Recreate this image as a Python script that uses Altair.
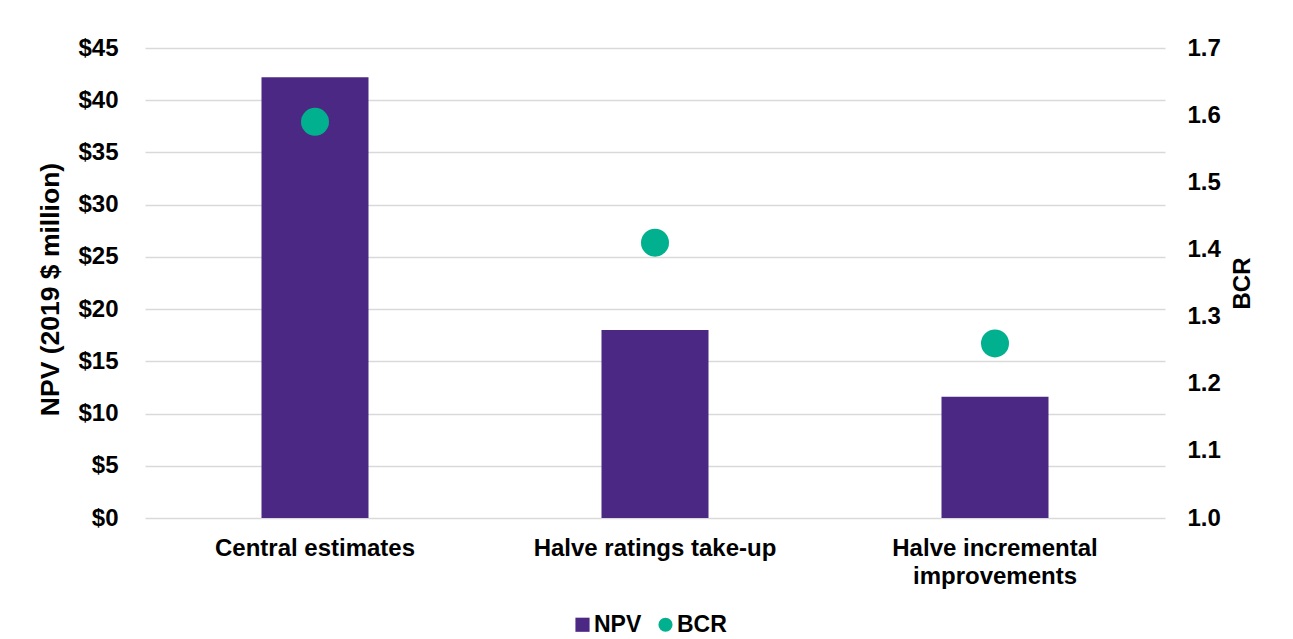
import altair as alt
import pandas as pd

categories = ["Central estimates", "Halve ratings take-up", "Halve incremental improvements"]
npv_values = [42.2, 18.0, 11.6]
bcr_values = [1.59, 1.41, 1.26]
series_names = ["NPV", "BCR"]
npv_ticks = [0, 5, 10, 15, 20, 25, 30, 35, 40, 45]
bcr_ticks = [1.0, 1.1, 1.2, 1.3, 1.4, 1.5, 1.6, 1.7]

rows = []
for c, v in zip(categories, npv_values):
    rows.append({"category": c, "series": "NPV", "npv": v})
for c, v in zip(categories, bcr_values):
    rows.append({"category": c, "series": "BCR", "bcr": v})
df = pd.DataFrame(rows)

PURPLE = "#4B2884"
GREEN = "#00B08E"
FONT = "Liberation Sans"

color_scale = alt.Scale(domain=series_names, range=[PURPLE, GREEN])
shape_scale = alt.Scale(domain=series_names, range=["square", "circle"])

legend = alt.Legend(
    title=None, orient="none", direction="horizontal", legendX=426, legendY=565,
    labelFontSize=23, labelFont=FONT, labelFontWeight="bold", labelColor="#000000",
    symbolSize=200, symbolStrokeWidth=0, labelOffset=0, columnPadding=12, padding=0,
)

x_enc = alt.X(
    "category:N", sort=categories, title=None,
    scale=alt.Scale(paddingInner=0.2, paddingOuter=0.1),
    axis=alt.Axis(
        labelAngle=0, domain=False, ticks=False, labelPadding=18,
        labelFontSize=24, labelFont=FONT, labelFontWeight="bold", labelColor="#000000",
        labelLineHeight=28, labelLimit=400,
        labelExpr="datum.label == 'Halve incremental improvements' ? ['Halve incremental', 'improvements'] : datum.label",
    ),
)

bars = alt.Chart(df).transform_filter(alt.datum.series == "NPV").mark_bar(size=107).encode(
    x=x_enc,
    y=alt.Y(
        "npv:Q", scale=alt.Scale(domain=[0, 45], nice=False),
        axis=alt.Axis(
            values=npv_ticks, labelExpr="'$' + datum.value", title="NPV (2019 $ million)",
            grid=True, gridColor="#D9D9D9", gridWidth=1.5, domain=False, ticks=False,
            labelPadding=27, labelFontSize=24, labelFont=FONT, labelFontWeight="bold",
            labelColor="#000000", titleFontSize=26.5, titleFont=FONT, titleFontWeight="bold",
            titleColor="#000000", titlePadding=13, titleY=241,
        ),
    ),
    color=alt.Color("series:N", scale=color_scale, legend=legend),
)

points = alt.Chart(df).transform_filter(alt.datum.series == "BCR").mark_point(
    filled=True, size=784, opacity=1
).encode(
    x=x_enc,
    y=alt.Y(
        "bcr:Q", scale=alt.Scale(domain=[1.0, 1.7], nice=False, zero=False),
        axis=alt.Axis(
            orient="right", values=bcr_ticks, format=".1f", title="BCR", grid=False,
            domain=False, ticks=False, labelPadding=22, labelFontSize=24, labelFont=FONT,
            labelFontWeight="bold", labelColor="#000000", titleFontSize=24, titleFont=FONT,
            titleFontWeight="bold", titleColor="#000000", titlePadding=10, titleAngle=270,
            titleBaseline="top",
        ),
    ),
    color=alt.Color("series:N", scale=color_scale, legend=legend),
    shape=alt.Shape("series:N", scale=shape_scale, legend=legend),
)

chart = alt.layer(bars, points).resolve_scale(y="independent").properties(
    width=1020, height=470,
    autosize=alt.AutoSizeParams(type="none"),
    padding={"left": 137, "top": 40, "right": 120, "bottom": 121},
).configure_view(stroke=None)

chart.save("out.html", embed_options={"renderer": "svg", "actions": False})
